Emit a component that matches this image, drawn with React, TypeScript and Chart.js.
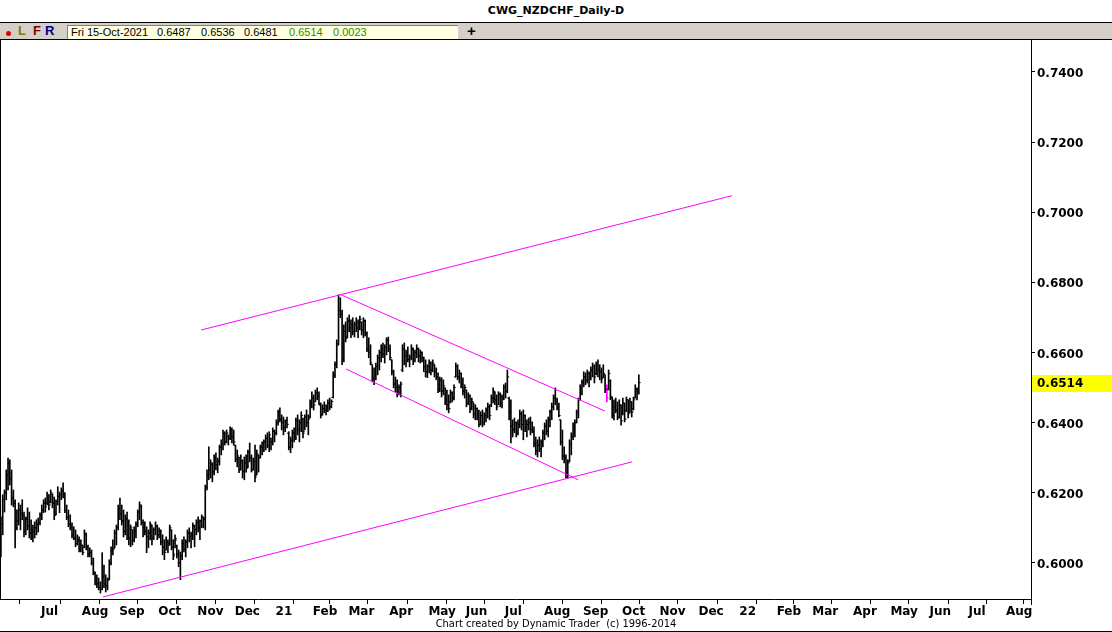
import React, { useEffect, useRef } from 'react';
import { Chart, registerables } from 'chart.js';

Chart.register(...registerables);

// Daily NZDCHF bars, one per trading day starting Mon 01-Jun-2020 (index 0) up to Fri 15-Oct-2021.
// Prices are in 1/10000 (pips): 6131 = 0.6131
const PIP = 10000;

const highs = [
  6131, 6194, 6208, 6265, 6299, 6294, 6265, 6208, 6180, 6151,
  6171, 6165, 6180, 6145, 6131, 6157, 6145, 6123, 6108, 6117,
  6123, 6128, 6143, 6165, 6180, 6185, 6202, 6194, 6208, 6197,
  6188, 6180, 6217, 6202, 6214, 6228, 6200, 6165, 6151, 6137,
  6114, 6103, 6094, 6080, 6074, 6066, 6051, 6094, 6085, 6051,
  6043, 6037, 6014, 5974, 5966, 5957, 5946, 6029, 5994, 5966,
  5957, 6009, 6046, 6066, 6094, 6108, 6165, 6185, 6165, 6151,
  6137, 6145, 6123, 6108, 6094, 6103, 6117, 6151, 6174, 6165,
  6123, 6117, 6103, 6094, 6117, 6108, 6100, 6117, 6108, 6100,
  6094, 6080, 6066, 6074, 6066, 6108, 6094, 6066, 6080, 6051,
  6037, 6031, 6066, 6074, 6066, 6094, 6100, 6088, 6114, 6108,
  6123, 6131, 6123, 6137, 6131, 6222, 6265, 6331, 6294, 6285,
  6308, 6314, 6299, 6336, 6351, 6379, 6374, 6379, 6365, 6388,
  6385, 6379, 6336, 6322, 6302, 6308, 6294, 6302, 6308, 6322,
  6342, 6308, 6299, 6336, 6322, 6308, 6336, 6345, 6351, 6365,
  6371, 6374, 6356, 6385, 6379, 6408, 6436, 6442, 6422, 6416,
  6408, 6416, 6374, 6359, 6379, 6385, 6413, 6422, 6408, 6431,
  6413, 6422, 6436, 6422, 6465, 6488, 6479, 6493, 6499, 6488,
  6456, 6451, 6459, 6451, 6465, 6470, 6465, 6545, 6573, 6636,
  6764, 6756, 6721, 6679, 6687, 6699, 6707, 6693, 6699, 6687,
  6699, 6693, 6704, 6687, 6699, 6693, 6659, 6642, 6622, 6565,
  6556, 6570, 6593, 6607, 6622, 6627, 6622, 6642, 6644, 6622,
  6579, 6550, 6530, 6522, 6508, 6516, 6622, 6627, 6607, 6616,
  6593, 6622, 6613, 6607, 6622, 6613, 6607, 6602, 6587, 6579,
  6565, 6579, 6573, 6579, 6565, 6556, 6542, 6530, 6528, 6522,
  6499, 6493, 6479, 6493, 6488, 6508, 6570, 6565, 6550, 6542,
  6528, 6508, 6493, 6485, 6479, 6470, 6456, 6451, 6442, 6436,
  6431, 6436, 6428, 6442, 6456, 6451, 6479, 6499, 6488, 6479,
  6488, 6485, 6479, 6508, 6513, 6550, 6473, 6465, 6408, 6413,
  6402, 6408, 6436, 6431, 6436, 6422, 6408, 6413, 6416, 6402,
  6388, 6359, 6351, 6359, 6351, 6379, 6399, 6408, 6416, 6436,
  6456, 6479, 6499, 6470, 6456, 6408, 6379, 6331, 6308, 6294,
  6351, 6371, 6399, 6408, 6436, 6470, 6508, 6522, 6545, 6542,
  6550, 6545, 6559, 6570, 6565, 6573, 6579, 6565, 6556, 6565,
  6536, 6508, 6550, 6522, 6473, 6465, 6470, 6459, 6465, 6451,
  6470, 6456, 6473, 6465, 6470, 6459, 6473, 6508, 6499, 6536,
];

const lows = [
  6017, 6080, 6145, 6180, 6208, 6222, 6165, 6160, 6043, 6094,
  6108, 6094, 6123, 6074, 6080, 6094, 6071, 6066, 6060, 6071,
  6080, 6088, 6108, 6123, 6143, 6145, 6165, 6151, 6171, 6157,
  6123, 6137, 6165, 6143, 6180, 6185, 6143, 6123, 6103, 6094,
  6071, 6066, 6046, 6051, 6031, 6031, 6023, 6043, 6037, 6017,
  6017, 5994, 5966, 5937, 5929, 5923, 5914, 5923, 5929, 5917,
  5923, 5952, 5994, 6023, 6043, 6051, 6094, 6123, 6108, 6074,
  6080, 6066, 6051, 6046, 6051, 6060, 6071, 6103, 6123, 6108,
  6074, 6080, 6029, 6043, 6066, 6051, 6066, 6080, 6066, 6071,
  6051, 6023, 6009, 6037, 6029, 6051, 6037, 6009, 6043, 6014,
  5989, 5952, 6009, 6031, 6017, 6043, 6060, 6043, 6066, 6046,
  6080, 6088, 6066, 6100, 6100, 6094, 6208, 6237, 6242, 6231,
  6251, 6265, 6257, 6279, 6308, 6322, 6336, 6342, 6336, 6351,
  6342, 6336, 6288, 6274, 6257, 6265, 6242, 6237, 6259, 6271,
  6288, 6259, 6265, 6231, 6251, 6259, 6299, 6308, 6317, 6322,
  6328, 6317, 6322, 6336, 6345, 6365, 6393, 6402, 6379, 6365,
  6374, 6385, 6322, 6314, 6328, 6345, 6351, 6365, 6345, 6374,
  6356, 6379, 6388, 6365, 6413, 6442, 6436, 6459, 6465, 6451,
  6413, 6422, 6428, 6422, 6431, 6436, 6442, 6470, 6528, 6556,
  6622, 6699, 6565, 6573, 6630, 6642, 6659, 6642, 6650, 6644,
  6659, 6642, 6664, 6650, 6642, 6647, 6602, 6585, 6565, 6516,
  6508, 6522, 6536, 6550, 6573, 6585, 6570, 6593, 6602, 6579,
  6536, 6499, 6488, 6473, 6479, 6473, 6545, 6565, 6559, 6573,
  6559, 6579, 6565, 6573, 6585, 6573, 6570, 6573, 6545, 6530,
  6528, 6542, 6536, 6545, 6530, 6522, 6485, 6488, 6473, 6479,
  6451, 6436, 6428, 6456, 6459, 6465, 6530, 6522, 6513, 6499,
  6479, 6470, 6445, 6451, 6428, 6436, 6413, 6408, 6408, 6388,
  6393, 6388, 6393, 6402, 6413, 6408, 6445, 6456, 6451, 6436,
  6451, 6445, 6442, 6465, 6470, 6485, 6408, 6342, 6359, 6371,
  6359, 6365, 6385, 6379, 6351, 6374, 6359, 6379, 6365, 6371,
  6331, 6308, 6302, 6317, 6302, 6331, 6351, 6365, 6359, 6388,
  6408, 6436, 6451, 6436, 6416, 6336, 6294, 6285, 6242, 6242,
  6288, 6308, 6351, 6359, 6399, 6413, 6465, 6479, 6502, 6508,
  6513, 6502, 6522, 6530, 6513, 6536, 6530, 6522, 6513, 6528,
  6485, 6459, 6493, 6465, 6413, 6408, 6428, 6408, 6413, 6393,
  6422, 6402, 6431, 6413, 6428, 6416, 6436, 6470, 6465, 6481,
];

const opens = [
  6030, 6110, 6180, 6200, 6250, 6285, 6240, 6185, 6170, 6100,
  6120, 6150, 6140, 6135, 6090, 6125, 6105, 6085, 6075, 6090,
  6100, 6110, 6115, 6135, 6150, 6170, 6170, 6190, 6175, 6195,
  6170, 6140, 6175, 6190, 6195, 6205, 6195, 6150, 6130, 6110,
  6100, 6080, 6070, 6055, 6065, 6040, 6050, 6045, 6080, 6045,
  6025, 6030, 6000, 5970, 5950, 5940, 5930, 5925, 5960, 5940,
  5935, 5955, 6000, 6035, 6040, 6085, 6100, 6155, 6140, 6120,
  6090, 6125, 6080, 6070, 6095, 6065, 6090, 6110, 6145, 6160,
  6115, 6100, 6090, 6075, 6085, 6105, 6070, 6095, 6105, 6080,
  6090, 6060, 6045, 6035, 6060, 6055, 6095, 6045, 6025, 6065,
  6025, 6000, 6020, 6055, 6040, 6060, 6085, 6075, 6080, 6105,
  6095, 6115, 6100, 6120, 6130, 6125, 6215, 6250, 6265, 6280,
  6260, 6300, 6280, 6290, 6330, 6340, 6370, 6345, 6360, 6355,
  6380, 6360, 6335, 6295, 6300, 6265, 6290, 6260, 6285, 6275,
  6315, 6300, 6265, 6290, 6250, 6305, 6300, 6330, 6320, 6345,
  6355, 6335, 6356, 6345, 6375, 6370, 6400, 6430, 6410, 6400,
  6385, 6405, 6370, 6330, 6350, 6370, 6360, 6405, 6380, 6400,
  6410, 6375, 6415, 6400, 6415, 6455, 6470, 6460, 6485, 6475,
  6450, 6425, 6440, 6435, 6445, 6455, 6445, 6472, 6535, 6565,
  6625, 6720, 6710, 6580, 6660, 6645, 6690, 6670, 6680, 6660,
  6680, 6670, 6685, 6687, 6665, 6690, 6655, 6610, 6600, 6565,
  6525, 6540, 6560, 6585, 6600, 6610, 6595, 6615, 6635, 6610,
  6579, 6545, 6510, 6500, 6480, 6500, 6550, 6610, 6590, 6600,
  6580, 6585, 6610, 6580, 6600, 6610, 6590, 6600, 6585, 6560,
  6545, 6560, 6570, 6550, 6565, 6545, 6530, 6495, 6520, 6490,
  6499, 6465, 6450, 6460, 6485, 6470, 6530, 6560, 6530, 6540,
  6510, 6490, 6493, 6455, 6475, 6440, 6456, 6425, 6440, 6415,
  6395, 6420, 6400, 6420, 6435, 6445, 6450, 6470, 6488, 6465,
  6451, 6480, 6455, 6470, 6500, 6490, 6470, 6430, 6390, 6380,
  6400, 6370, 6395, 6425, 6395, 6420, 6385, 6395, 6400, 6380,
  6375, 6340, 6320, 6335, 6325, 6345, 6370, 6390, 6375, 6410,
  6430, 6445, 6470, 6460, 6445, 6408, 6345, 6305, 6300, 6255,
  6290, 6340, 6360, 6390, 6400, 6430, 6465, 6500, 6515, 6530,
  6520, 6540, 6525, 6550, 6560, 6540, 6565, 6550, 6545, 6530,
  6536, 6495, 6495, 6520, 6470, 6420, 6445, 6435, 6415, 6450,
  6425, 6455, 6435, 6465, 6430, 6459, 6440, 6470, 6495, 6487,
];

const closes = [
  6110, 6180, 6200, 6250, 6285, 6240, 6185, 6170, 6100, 6120,
  6150, 6140, 6135, 6090, 6125, 6105, 6085, 6075, 6090, 6100,
  6110, 6115, 6135, 6150, 6170, 6160, 6195, 6165, 6200, 6170,
  6135, 6175, 6190, 6195, 6205, 6200, 6150, 6130, 6110, 6100,
  6080, 6070, 6055, 6065, 6040, 6050, 6030, 6085, 6045, 6025,
  6030, 6000, 5975, 5950, 5940, 5930, 5925, 5960, 5940, 5935,
  5950, 6000, 6035, 6040, 6085, 6100, 6155, 6140, 6120, 6090,
  6125, 6080, 6070, 6100, 6065, 6090, 6110, 6145, 6165, 6115,
  6100, 6090, 6075, 6085, 6110, 6070, 6095, 6105, 6080, 6090,
  6060, 6045, 6030, 6060, 6050, 6100, 6045, 6020, 6070, 6025,
  6000, 6020, 6055, 6040, 6060, 6085, 6075, 6080, 6105, 6095,
  6115, 6100, 6120, 6130, 6125, 6215, 6250, 6265, 6285, 6260,
  6300, 6280, 6290, 6330, 6340, 6370, 6345, 6370, 6355, 6380,
  6360, 6345, 6295, 6305, 6265, 6290, 6260, 6285, 6270, 6315,
  6300, 6265, 6290, 6245, 6310, 6300, 6330, 6320, 6345, 6355,
  6335, 6365, 6345, 6375, 6370, 6400, 6430, 6410, 6400, 6385,
  6405, 6395, 6330, 6350, 6370, 6360, 6405, 6380, 6400, 6420,
  6370, 6415, 6400, 6410, 6455, 6470, 6450, 6485, 6475, 6455,
  6420, 6440, 6435, 6445, 6455, 6445, 6460, 6535, 6565, 6620,
  6720, 6710, 6580, 6660, 6640, 6690, 6670, 6680, 6660, 6680,
  6670, 6685, 6695, 6665, 6690, 6655, 6610, 6600, 6570, 6525,
  6540, 6560, 6585, 6600, 6610, 6595, 6615, 6635, 6610, 6585,
  6545, 6510, 6500, 6480, 6500, 6510, 6610, 6590, 6600, 6580,
  6585, 6610, 6580, 6600, 6610, 6590, 6600, 6585, 6560, 6545,
  6560, 6570, 6550, 6570, 6545, 6530, 6495, 6520, 6490, 6505,
  6465, 6450, 6440, 6485, 6470, 6500, 6560, 6530, 6540, 6510,
  6490, 6500, 6455, 6475, 6440, 6460, 6425, 6440, 6415, 6395,
  6420, 6400, 6420, 6435, 6445, 6420, 6470, 6490, 6465, 6445,
  6480, 6455, 6470, 6500, 6490, 6530, 6430, 6390, 6380, 6400,
  6370, 6395, 6425, 6395, 6420, 6385, 6395, 6400, 6380, 6375,
  6340, 6320, 6335, 6325, 6345, 6370, 6390, 6375, 6410, 6430,
  6445, 6470, 6460, 6445, 6420, 6345, 6305, 6300, 6255, 6285,
  6340, 6360, 6390, 6400, 6430, 6465, 6500, 6515, 6530, 6520,
  6540, 6525, 6550, 6560, 6530, 6565, 6550, 6545, 6525, 6540,
  6495, 6470, 6540, 6475, 6420, 6445, 6435, 6415, 6450, 6405,
  6455, 6410, 6465, 6425, 6460, 6430, 6465, 6495, 6490, 6514,
];

// bar highlighted in magenta by the charting program
const markedBars = [341];

// month start positions (trading-day index) and their labels
const monthTickIndex = [22, 45, 66, 88, 110, 131, 154, 175, 195, 218, 240, 261, 283, 305, 327, 349, 370, 392, 415, 436, 456, 479, 500, 522, 544, 565];
const monthTickLabels = ['Jul', 'Aug', 'Sep', 'Oct', 'Nov', 'Dec', '21', 'Feb', 'Mar', 'Apr', 'May', 'Jun', 'Jul', 'Aug', 'Sep', 'Oct', 'Nov', 'Dec', '22', 'Feb', 'Mar', 'Apr', 'May', 'Jun', 'Jul', 'Aug'];

const priceTicks = [0.6, 0.62, 0.64, 0.66, 0.68, 0.7, 0.72, 0.74];

// trend lines: [start, end] as (trading-day index, price)
const upperTrendX = [112.6, 411.4];
const upperTrendY = [0.6664, 0.7047];
const lowerTrendX = [57.5, 355.2];
const lowerTrendY = [0.5903, 0.6288];
const channelTopX = [190.8, 339.9];
const channelTopY = [0.6766, 0.6433];
const channelBottomX = [194.2, 324.8];
const channelBottomY = [0.6553, 0.6237];

const X_MIN = 0.05;
const X_MAX = 579.7;
const Y_MIN = 0.5897;
const Y_MAX = 0.7491;

const MAGENTA = '#ff00ff';

const lastBar = closes.length - 1;

const lastPricePlugin = {
  id: 'lastPrice',
  afterDraw(chart: any) {
    const { ctx, chartArea, scales } = chart;
    const v = closes[lastBar] / PIP;
    const py = Math.round(scales.y.getPixelForValue(v));
    ctx.save();
    ctx.fillStyle = '#ffff00';
    ctx.fillRect(chartArea.right + 1, py - 8, chart.width - chartArea.right - 1, 17);
    ctx.fillStyle = '#000';
    ctx.font = 'bold 12px "DejaVu Sans"';
    ctx.textBaseline = 'middle';
    ctx.textAlign = 'left';
    ctx.fillText(v.toFixed(4), chartArea.right + 6, py + 1);
    ctx.strokeStyle = '#000';
    ctx.lineWidth = 1;
    ctx.beginPath();
    ctx.moveTo(Math.round(chartArea.right) + 0.5, chartArea.bottom);
    ctx.lineTo(Math.round(chartArea.right) + 0.5, chartArea.bottom + 6);
    ctx.stroke();
    ctx.restore();
  },
};

function trend(xs: number[], ys: number[]) {
  return {
    type: 'line' as const,
    data: xs.map((x, k) => ({ x, y: ys[k] })),
    borderColor: MAGENTA,
    borderWidth: 1,
    pointRadius: 0,
    fill: false,
    order: 0,
  };
}

function ChartCanvas() {
  const ref = useRef<HTMLCanvasElement | null>(null);
  useEffect(() => {
    if (!ref.current) return;
    const colors = highs.map((_, i) => (markedBars.includes(i) ? MAGENTA : '#000'));
    const chart = new Chart(ref.current, {
      type: 'bar',
      data: {
        datasets: [
          trend(upperTrendX, upperTrendY),
          trend(lowerTrendX, lowerTrendY),
          trend(channelTopX, channelTopY),
          trend(channelBottomX, channelBottomY),
          {
            type: 'line',
            data: closes.map((c, i) => ({ x: i + 0.5, y: c / PIP })),
            showLine: false,
            pointStyle: 'line',
            pointRadius: 0.9,
            pointBorderWidth: 1,
            pointBorderColor: colors,
            pointBackgroundColor: colors,
            order: 1,
          } as any,
          {
            type: 'line',
            data: opens.map((o, i) => ({ x: i - 0.5, y: o / PIP })),
            showLine: false,
            pointStyle: 'line',
            pointRadius: 0.9,
            pointBorderWidth: 1,
            pointBorderColor: colors,
            pointBackgroundColor: colors,
            order: 1,
          } as any,
          {
            type: 'bar',
            data: highs.map((h, i) => ({ x: i, y: [lows[i] / PIP, h / PIP] })),
            backgroundColor: colors,
            borderWidth: 0,
            barThickness: 1,
            grouped: false,
            order: 2,
          } as any,
        ],
      },
      options: {
        animation: false,
        responsive: false,
        maintainAspectRatio: false,
        events: [],
        layout: { padding: { left: 1, right: 0, top: 0, bottom: 0 }, autoPadding: false },
        plugins: { legend: { display: false }, tooltip: { enabled: false } },
        scales: {
          x: {
            type: 'linear',
            min: X_MIN,
            max: X_MAX,
            offset: false,
            grid: { display: true, drawOnChartArea: false, drawTicks: true, tickLength: 5, color: '#000', lineWidth: 1 },
            border: { display: true, color: '#000', width: 1 },
            ticks: {
              autoSkip: false,
              maxRotation: 0,
              minRotation: 0,
              align: 'start',
              labelOffset: 1,
              padding: 1,
              color: '#000',
              font: { family: 'DejaVu Sans', size: 12, weight: 'bold' },
              callback: (v: any) => {
                const k = monthTickIndex.indexOf(Number(v));
                return k >= 0 ? monthTickLabels[k] : '';
              },
            },
            afterBuildTicks: (axis: any) => {
              axis.ticks = monthTickIndex.map((v) => ({ value: v }));
            },
            afterFit: (axis: any) => {
              axis.height = 33;
              axis.paddingLeft = 0;
              axis.paddingRight = 0;
            },
          } as any,
          y: {
            type: 'linear',
            position: 'right',
            min: Y_MIN,
            max: Y_MAX,
            grid: { display: true, drawOnChartArea: false, drawTicks: true, tickLength: 4, color: '#000', lineWidth: 1 },
            border: { display: true, color: '#000', width: 1 },
            ticks: {
              padding: 2,
              labelOffset: 2,
              color: '#000',
              font: { family: 'DejaVu Sans', size: 12, weight: 'bold' },
              callback: (v: any) => Number(v).toFixed(4),
            },
            afterBuildTicks: (axis: any) => {
              axis.ticks = priceTicks.map((v) => ({ value: v }));
            },
            afterFit: (axis: any) => {
              axis.width = 81;
              axis.paddingTop = 0;
              axis.paddingBottom = 0;
            },
          } as any,
        },
      },
      plugins: [lastPricePlugin],
    });
    return () => chart.destroy();
  }, []);
  return (
    <canvas
      ref={ref}
      width={1112}
      height={592}
      style={{ position: 'absolute', left: 0, top: 40, width: 1112, height: 592, display: 'block' }}
    />
  );
}

export default function App() {
  const boxText: React.CSSProperties = {
    position: 'absolute',
    top: 0,
    font: '11px "Liberation Sans", Arial, sans-serif',
    lineHeight: '13px',
    whiteSpace: 'pre',
  };
  const letter: React.CSSProperties = {
    position: 'absolute',
    top: 0,
    font: 'bold 13px "Liberation Sans", Arial, sans-serif',
    lineHeight: '16px',
  };
  return (
    <div style={{ position: 'relative', width: 1112, height: 632, background: '#fff', overflow: 'hidden' }}>
      <style>{'body{margin:0;}'}</style>
      <div
        style={{
          position: 'absolute', left: 0, top: 0, width: 1112, height: 22, textAlign: 'center',
          font: 'bold 11px "DejaVu Sans", sans-serif', lineHeight: '21px', color: '#000',
        }}
      >
        CWG_NZDCHF_Daily-D
      </div>
      <div
        style={{
          position: 'absolute', left: 0, top: 22, width: 1112, height: 16, background: '#d4d0c8',
          borderTop: '1px solid #000', borderBottom: '1px solid #000',
        }}
      >
        <div style={{ position: 'absolute', left: 6, top: 8, width: 5, height: 5, borderRadius: '50%', background: '#e00000' }} />
        <div style={{ ...letter, left: 18, color: '#808000' }}>L</div>
        <div style={{ ...letter, left: 33, color: '#800000' }}>F</div>
        <div style={{ ...letter, left: 45, color: '#000080' }}>R</div>
        <div
          style={{
            position: 'absolute', left: 67, top: 2, width: 390, height: 13, background: '#ffffe1',
            borderTop: '1px solid #808080', borderLeft: '1px solid #808080',
          }}
        >
          <span style={{ ...boxText, left: 3, color: '#000' }}>Fri 15-Oct-2021</span>
          <span style={{ ...boxText, left: 89, color: '#000' }}>0.6487</span>
          <span style={{ ...boxText, left: 133, color: '#000' }}>0.6536</span>
          <span style={{ ...boxText, left: 176, color: '#000' }}>0.6481</span>
          <span style={{ ...boxText, left: 221, color: '#2e8b00' }}>0.6514</span>
          <span style={{ ...boxText, left: 265, color: '#2e8b00' }}>0.0023</span>
        </div>
        <div style={{ ...letter, left: 467, color: '#000', fontSize: 15 }}>+</div>
      </div>
      <ChartCanvas />
      <div style={{ position: 'absolute', left: 0, top: 40, width: 1, height: 560, background: '#000' }} />
      <div
        style={{
          position: 'absolute', left: 0, top: 617, width: 1112, height: 14, textAlign: 'center',
          font: '11px "DejaVu Sans Condensed", "DejaVu Sans", sans-serif', lineHeight: '14px', color: '#000',
          whiteSpace: 'pre',
        }}
      >
        {'Chart created by Dynamic Trader  (c) 1996-2014'}
      </div>
      <div style={{ position: 'absolute', left: 0, top: 631, width: 1112, height: 1, background: '#000' }} />
    </div>
  );
}
